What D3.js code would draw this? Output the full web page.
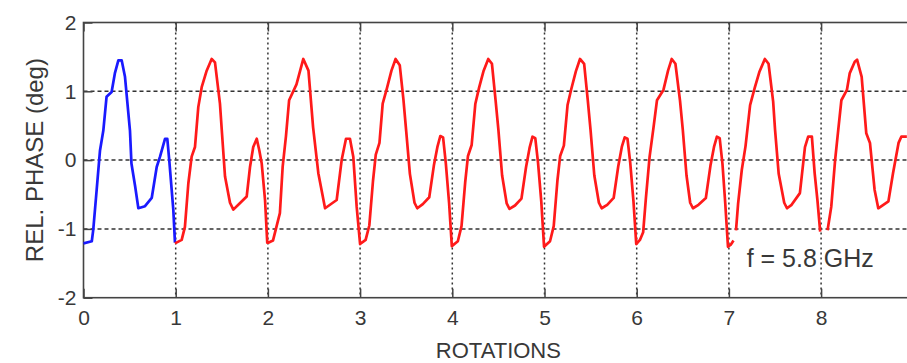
<!DOCTYPE html>
<html>
<head>
<meta charset="utf-8">
<script src="https://cdn.jsdelivr.net/npm/d3@7"></script>
<style>
  body { margin: 0; background: #fff; }
  svg text { font-family: "Liberation Sans", Arial, sans-serif; fill: #383838; }
</style>
</head>
<body>
<div id="chart"></div>
<script>
// tick labels
const xTicks = [0, 1, 2, 3, 4, 5, 6, 7, 8, 9];
const yTicks = [-2, -1, 0, 1, 2];
const xGrid = [1, 2, 3, 4, 5, 6, 7, 8];
const yGrid = [-1, 0, 1];

// first rotation (blue)
const blueRot = [0.00, 0.09, 0.106, 0.143, 0.179, 0.215, 0.25, 0.305, 0.34, 0.378, 0.414, 0.45, 0.504, 0.52, 0.56, 0.595, 0.667, 0.74, 0.794, 0.83, 0.884, 0.909, 0.93, 0.974, 0.992];
const bluePhase = [-1.21, -1.18, -1.01, -0.43, 0.14, 0.43, 0.92, 0.99, 1.26, 1.45, 1.45, 1.21, 0.43, -0.05, -0.38, -0.70, -0.67, -0.55, -0.10, 0.05, 0.31, 0.31, 0.00, -0.72, -1.20];

// rotations 1..7 (red, up to the first gap)
const redRotA = [
  0.992, 1.065, 1.10, 1.137, 1.173, 1.209, 1.245, 1.282, 1.336, 1.39, 1.426, 1.48, 1.50, 1.535, 1.589, 1.625, 1.679, 1.77, 1.806, 1.841, 1.879, 1.907, 1.933, 1.969, 1.993,
  2.004, 2.055, 2.13, 2.16, 2.196, 2.23, 2.31, 2.384, 2.44, 2.49, 2.547, 2.62, 2.746, 2.80, 2.847, 2.89, 2.926, 2.963, 3.00,
  3.06, 3.10, 3.14, 3.17, 3.21, 3.245, 3.29, 3.34, 3.385, 3.43, 3.47, 3.50, 3.54, 3.59, 3.62, 3.68, 3.75, 3.80, 3.84, 3.87, 3.90, 3.93, 3.965, 3.995,
  4.06, 4.10, 4.14, 4.17, 4.21, 4.25, 4.29, 4.34, 4.39, 4.43, 4.47, 4.50, 4.54, 4.59, 4.62, 4.68, 4.75, 4.80, 4.84, 4.87, 4.90, 4.93, 4.965, 4.995,
  5.06, 5.10, 5.14, 5.17, 5.21, 5.25, 5.29, 5.34, 5.385, 5.43, 5.47, 5.50, 5.54, 5.59, 5.62, 5.68, 5.75, 5.80, 5.84, 5.87, 5.90, 5.93, 5.965, 5.995,
  6.035, 6.07, 6.10, 6.14, 6.18, 6.22, 6.29, 6.34, 6.38, 6.42, 6.47, 6.50, 6.54, 6.58, 6.61, 6.67, 6.75, 6.80, 6.84, 6.87, 6.90, 6.93, 6.96, 6.99, 7.02, 7.05
];
const redPhaseA = [
  -1.21, -1.16, -0.97, -0.34, 0.05, 0.19, 0.77, 1.06, 1.30, 1.47, 1.42, 0.82, 0.43, -0.24, -0.62, -0.72, -0.65, -0.53, -0.10, 0.19, 0.31, 0.14, -0.05, -0.58, -1.20,
  -1.20, -1.17, -0.77, -0.10, 0.35, 0.87, 1.10, 1.47, 1.30, 0.48, -0.19, -0.70, -0.58, 0.00, 0.31, 0.31, 0.05, -0.68, -1.22,
  -1.16, -0.95, -0.30, 0.08, 0.25, 0.82, 1.04, 1.30, 1.47, 1.38, 0.88, 0.42, -0.20, -0.62, -0.70, -0.64, -0.54, -0.08, 0.20, 0.35, 0.33, -0.05, -0.62, -1.25,
  -1.18, -0.96, -0.32, 0.06, 0.22, 0.82, 1.05, 1.30, 1.47, 1.40, 0.86, 0.44, -0.22, -0.63, -0.71, -0.66, -0.56, -0.10, 0.19, 0.34, 0.32, -0.04, -0.60, -1.26,
  -1.18, -0.96, -0.30, 0.06, 0.21, 0.80, 1.03, 1.29, 1.47, 1.40, 0.86, 0.43, -0.22, -0.62, -0.70, -0.65, -0.55, -0.09, 0.20, 0.33, 0.31, -0.04, -0.60, -1.22,
  -1.16, -1.05, -0.55, 0.05, 0.45, 0.87, 1.02, 1.30, 1.47, 1.40, 0.86, 0.44, -0.22, -0.62, -0.70, -0.65, -0.55, -0.08, 0.20, 0.34, 0.32, -0.05, -0.62, -1.26, -1.23, -1.17
];

// rotation 7..8 (red, between gaps)
const redRotB = [7.077, 7.10, 7.14, 7.18, 7.23, 7.28, 7.33, 7.39, 7.43, 7.48, 7.50, 7.54, 7.60, 7.63, 7.68, 7.77, 7.825, 7.86, 7.90, 7.93, 7.96, 7.99];
const redPhaseB = [-1.02, -0.63, -0.14, 0.20, 0.80, 1.05, 1.28, 1.47, 1.40, 0.85, 0.45, -0.20, -0.62, -0.70, -0.65, -0.48, 0.19, 0.34, 0.34, -0.19, -0.58, -1.04];

// rotation 8..9 (red, after the second gap)
const redRotC = [8.07, 8.11, 8.152, 8.19, 8.22, 8.28, 8.31, 8.365, 8.39, 8.44, 8.49, 8.53, 8.58, 8.62, 8.73, 8.78, 8.84, 8.87, 8.93];
const redPhaseC = [-1.02, -0.68, 0.00, 0.49, 0.87, 1.02, 1.26, 1.43, 1.46, 1.21, 0.39, 0.25, -0.43, -0.70, -0.60, -0.19, 0.25, 0.34, 0.34];

const margin = { top: 22.5, left: 83.5 };
const width = 829.8;
const height = 275.2;

const svg = d3.select("#chart").append("svg")
  .attr("width", 907)
  .attr("height", 363);

const g = svg.append("g")
  .attr("transform", "translate(" + margin.left + "," + margin.top + ")");

const x = d3.scaleLinear().domain([0, 9]).range([0, width]);
const y = d3.scaleLinear().domain([-2, 2]).range([height, 0]);

// grid
g.selectAll(".vgrid").data(xGrid).join("line")
  .attr("class", "vgrid")
  .attr("x1", d => x(d)).attr("x2", d => x(d))
  .attr("y1", 0).attr("y2", height)
  .style("stroke", "#333")
  .style("stroke-width", 1.5)
  .style("stroke-dasharray", "2,3");

g.selectAll(".hgrid").data(yGrid).join("line")
  .attr("class", "hgrid")
  .attr("x1", 0).attr("x2", width)
  .attr("y1", d => y(d)).attr("y2", d => y(d))
  .style("stroke", "#333")
  .style("stroke-width", 1.5)
  .style("stroke-dasharray", "4,3");

// axes, ticks inward
const xAxis = d3.axisBottom(x).tickValues(xTicks).tickSize(-9).tickPadding(12).tickFormat(d => String(d));
const xAxisTop = d3.axisTop(x).tickValues(xTicks).tickSize(-9).tickFormat("");
const yAxis = d3.axisLeft(y).tickValues(yTicks).tickSize(-9).tickPadding(7).tickFormat(d => String(d));

function styleAxis(sel) {
  sel.select(".domain").remove();
  sel.selectAll("line").style("stroke", "#444").style("stroke-width", 1.5);
  sel.selectAll("text").style("font-size", "21px").style("fill", "#383838")
    .style("font-family", "'Liberation Sans', Arial, sans-serif");
}

g.append("g").attr("transform", "translate(0," + height + ")").call(xAxis).call(styleAxis);
g.append("g").call(xAxisTop).call(styleAxis);
g.append("g").call(yAxis).call(styleAxis);

// frame
g.append("rect")
  .attr("width", width).attr("height", height)
  .style("fill", "none")
  .style("stroke", "#444")
  .style("stroke-width", 1.6);

// traces
const line = d3.line()
  .x(d => x(d[0]))
  .y(d => y(d[1]));

const traces = [
  { color: "#1a1aff", pts: d3.zip(blueRot, bluePhase) },
  { color: "#ff1a1a", pts: d3.zip(redRotA, redPhaseA) },
  { color: "#ff1a1a", pts: d3.zip(redRotB, redPhaseB) },
  { color: "#ff1a1a", pts: d3.zip(redRotC, redPhaseC) }
];

g.selectAll(".trace").data(traces).join("path")
  .attr("class", "trace")
  .attr("d", d => line(d.pts))
  .style("fill", "none")
  .style("stroke", d => d.color)
  .style("stroke-width", 2.7)
  .style("stroke-linejoin", "round");

// labels
g.append("text")
  .attr("x", width / 2)
  .attr("y", 335.5)
  .style("text-anchor", "middle")
  .style("font-size", "22px")
  .text("ROTATIONS");

g.append("text")
  .attr("transform", "rotate(-90)")
  .attr("x", -height / 2)
  .attr("y", -40.5)
  .style("text-anchor", "middle")
  .style("font-size", "24px")
  .text("REL. PHASE (deg)");

g.append("text")
  .attr("x", 746.7 - margin.left)
  .attr("y", 266.7 - margin.top)
  .style("font-size", "25px")
  .text("f = 5.8 GHz");
</script>
</body>
</html>
